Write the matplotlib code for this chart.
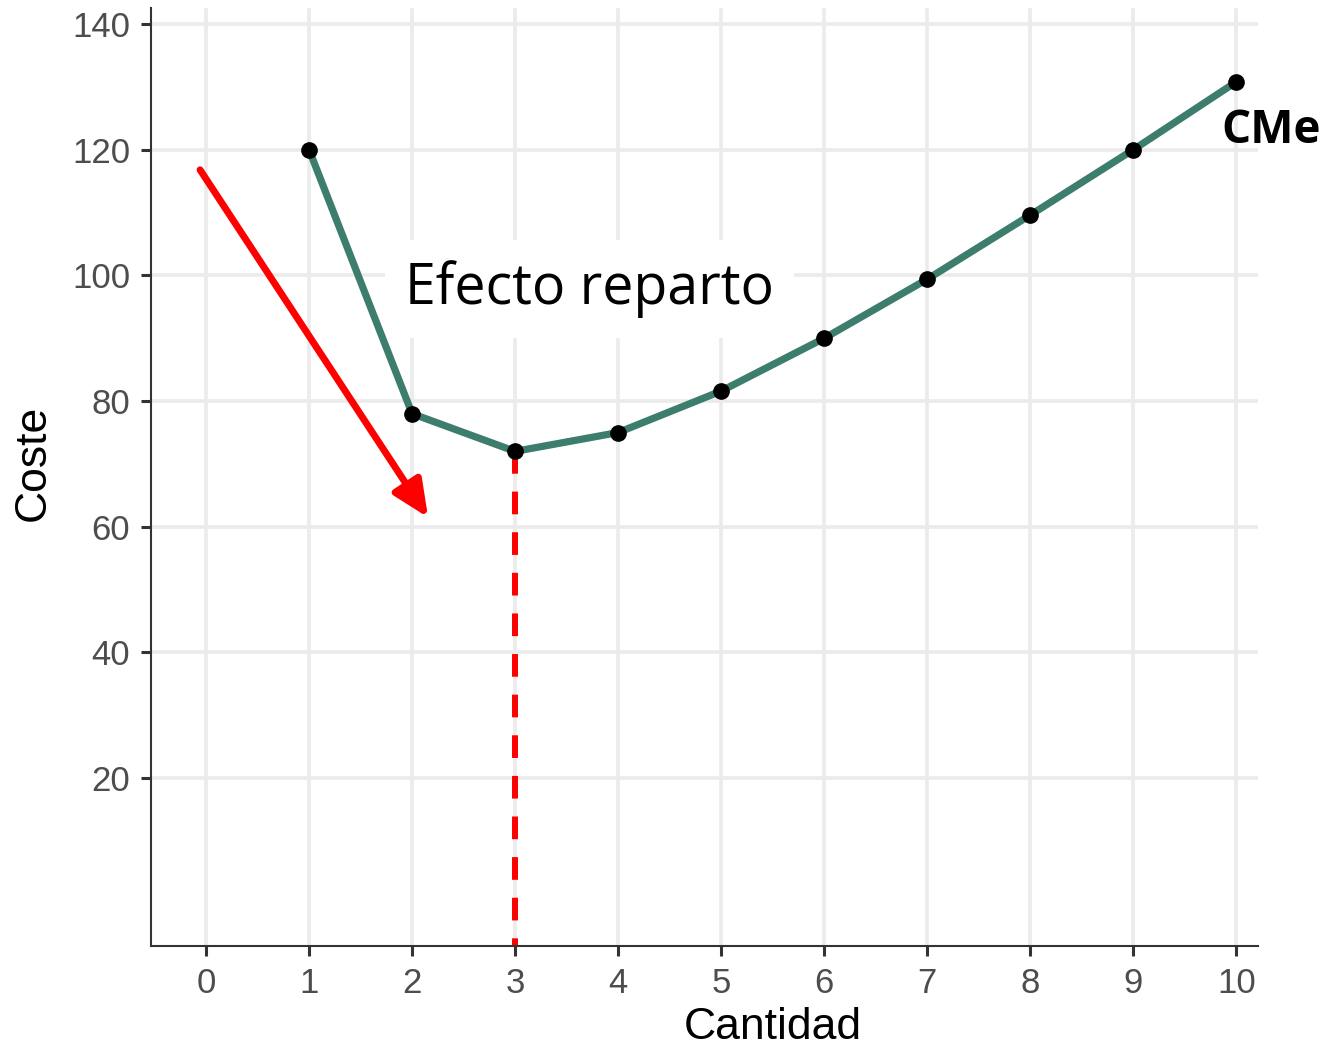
import matplotlib
matplotlib.use("Agg")
import matplotlib.pyplot as plt
from matplotlib.patches import FancyArrowPatch

cantidad = [1, 2, 3, 4, 5, 6, 7, 8, 9, 10]
coste = [120, 78, 72, 75, 81.6, 90, 99.4, 109.6, 120, 130.8]
x_ticks = list(range(0, 11))
y_ticks = [20, 40, 60, 80, 100, 120, 140]
min_q, min_c = 3, 72

plt.rcParams['font.family'] = ['Liberation Sans', 'DejaVu Sans']

fig = plt.figure(figsize=(13.27, 10.49), dpi=100)
ax = fig.add_axes([0.1138, 0.0982, 0.948 - 0.1138, 0.9927 - 0.0982])
ax.set_xlim(-0.534, 10.21)
ax.set_ylim(-6.7, 142.6)

grid_c = '#EBEBEB'
ax.set_xticks(x_ticks)
ax.set_yticks(y_ticks)
ax.grid(True, color=grid_c, linewidth=2.6, zorder=0)
ax.set_axisbelow(True)

for s in ['top', 'right']:
    ax.spines[s].set_visible(False)
for s in ['left', 'bottom']:
    ax.spines[s].set_color('#333333')
    ax.spines[s].set_linewidth(1.5)
ax.tick_params(axis='both', colors='#333333', width=2.2, length=7,
               labelsize=25, labelcolor='#4D4D4D')
ax.tick_params(axis='x', pad=8)
ax.tick_params(axis='y', pad=8)

ax.set_xlabel('Cantidad', fontsize=32, color='black')
ax.xaxis.set_label_coords(0.5615, -0.065)
ax.set_ylabel('Coste', fontsize=32, color='black')
ax.yaxis.set_label_coords(-0.088, 0.515)

# dashed vertical at minimum (drawn from the point downwards)
ax.plot([min_q, min_q], [min_c, -6.7], color='#FF0000', linewidth=4.3,
        dashes=(3.8, 3.0), zorder=2, clip_on=False)

ax.text(3.72, 97.8, 'Efecto reparto', fontsize=40, family='Open Sans',
        ha='center', va='center', zorder=1.5,
        bbox=dict(boxstyle='square,pad=0.36', facecolor='white', edgecolor='none'))

ax.plot(cantidad, coste, color='#3D7D6E', linewidth=5.2, zorder=3)
ax.plot(cantidad, coste, 'o', color='black', markersize=11, zorder=4)

arrow = FancyArrowPatch((-0.058, 116.8), (2.155, 61.5),
                        arrowstyle='-|>,head_length=1.1,head_width=0.5',
                        mutation_scale=20, color='#FF0000', linewidth=5,
                        shrinkA=0, shrinkB=0, zorder=3)
ax.add_patch(arrow)

ax.text(10.34, 123.1, 'CMe', fontsize=33, fontweight='bold', family='Open Sans',
        ha='center', va='center', clip_on=False)

fig.savefig('out.png', dpi=100)
